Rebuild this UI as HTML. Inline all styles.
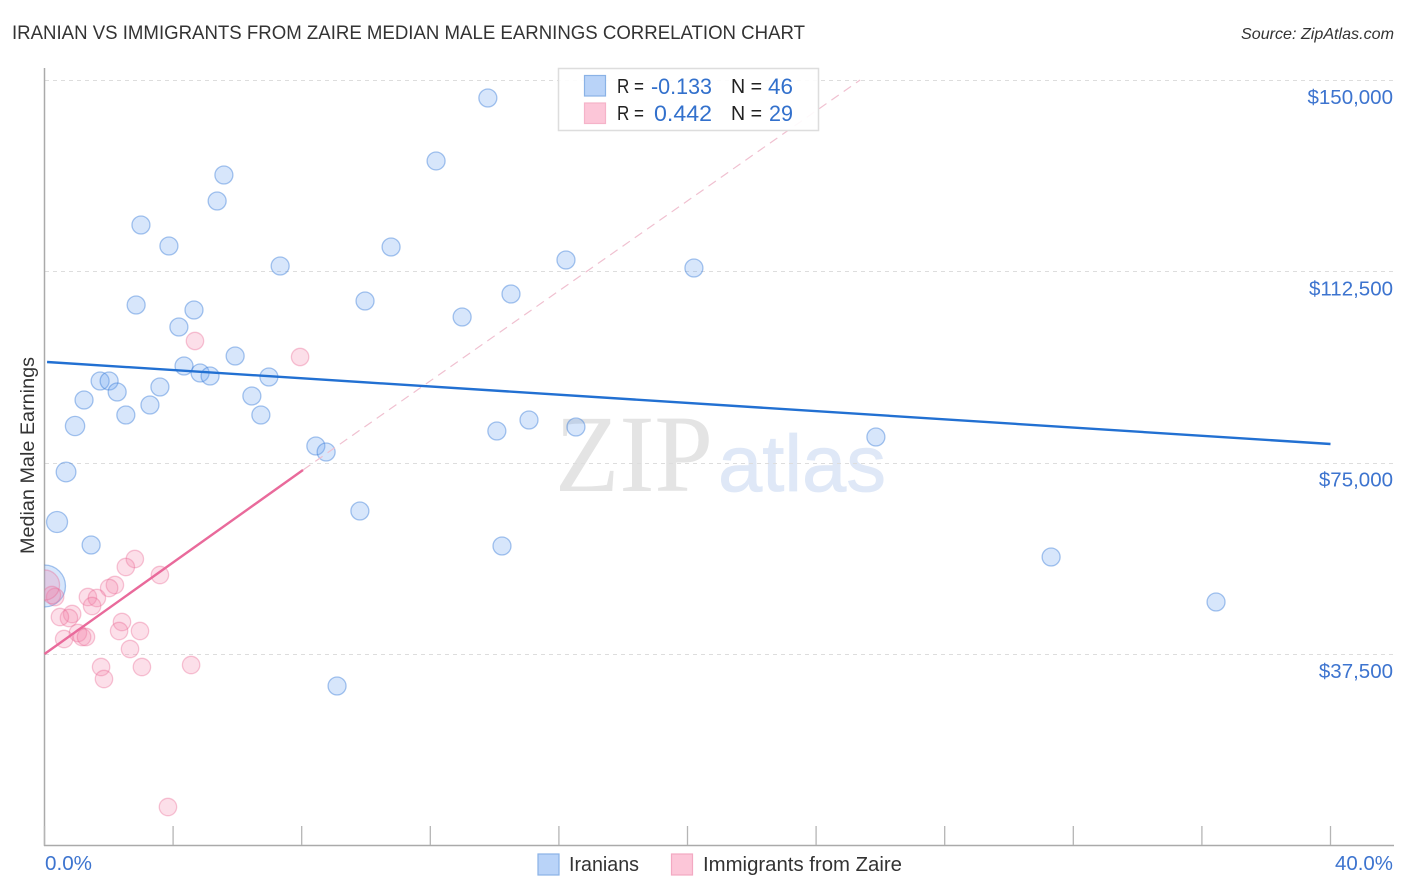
<!DOCTYPE html>
<html lang="en">
<head>
<meta charset="utf-8">
<title>Iranian vs Immigrants from Zaire Median Male Earnings Correlation Chart</title>
<style>
html,body{margin:0;padding:0;background:#fff;}
svg{display:block;font-family:"Liberation Sans",sans-serif;}
</style>
</head>
<body>
<svg id="chart" xmlns="http://www.w3.org/2000/svg" width="1406" height="892" viewBox="0 0 1406 892">
  <defs><clipPath id="plot-clip"><rect x="44.5" y="60" width="1350" height="785"/></clipPath></defs>
  <text x="12" y="39" font-size="19" fill="#333" textLength="793" lengthAdjust="spacingAndGlyphs">IRANIAN VS IMMIGRANTS FROM ZAIRE MEDIAN MALE EARNINGS CORRELATION CHART</text>
  <text x="1394" y="39" font-size="16" font-style="italic" fill="#333" text-anchor="end" textLength="153" lengthAdjust="spacingAndGlyphs">Source: ZipAtlas.com</text>

  <g>
    <text x="555" y="491" font-family="'Liberation Serif',serif" font-size="110" fill="#e4e4e4" textLength="158" lengthAdjust="spacingAndGlyphs">ZIP</text>
    <text x="718" y="491" font-size="80" fill="#dfe8f7" stroke="#dfe8f7" stroke-width="0.8" textLength="168" lengthAdjust="spacingAndGlyphs">atlas</text>
  </g>

  <g id="grid"></g>
  <g id="axes"></g>
  <g id="points" clip-path="url(#plot-clip)"></g>
  <g id="trends"></g>
  <g id="ylabels"></g>

  <text transform="translate(34,455.5) rotate(-90)" font-size="19" fill="#333" text-anchor="middle" textLength="197" lengthAdjust="spacingAndGlyphs">Median Male Earnings</text>
  <text x="45" y="870" font-size="20" fill="#3d74cf" textLength="47" lengthAdjust="spacingAndGlyphs">0.0%</text>
  <text x="1335" y="870" font-size="20" fill="#3d74cf" textLength="58" lengthAdjust="spacingAndGlyphs">40.0%</text>

  <g>
    <rect x="558.5" y="68.5" width="260" height="62" fill="#fff" fill-opacity="0.9" stroke="#ddd" stroke-width="1.5"/>
    <rect x="584.5" y="75.5" width="21" height="20.5" fill="#b9d3f8" stroke="#8ab2e6" stroke-width="1.2"/>
    <rect x="584.5" y="103" width="21" height="20.5" fill="#fcc6d8" stroke="#f5b3c9" stroke-width="1.2"/>
    <text x="617" y="93" font-size="20" fill="#222" textLength="27" lengthAdjust="spacingAndGlyphs">R =</text>
    <text x="651" y="94" font-size="22" fill="#3270cc" textLength="61" lengthAdjust="spacingAndGlyphs">-0.133</text>
    <text x="731" y="93" font-size="20" fill="#222" textLength="31" lengthAdjust="spacingAndGlyphs">N =</text>
    <text x="768" y="94" font-size="22" fill="#3270cc" textLength="25" lengthAdjust="spacingAndGlyphs">46</text>
    <text x="617" y="120" font-size="20" fill="#222" textLength="27" lengthAdjust="spacingAndGlyphs">R =</text>
    <text x="654" y="121" font-size="22" fill="#3270cc" textLength="58" lengthAdjust="spacingAndGlyphs">0.442</text>
    <text x="731" y="120" font-size="20" fill="#222" textLength="31" lengthAdjust="spacingAndGlyphs">N =</text>
    <text x="769" y="121" font-size="22" fill="#3270cc" textLength="24" lengthAdjust="spacingAndGlyphs">29</text>
  </g>

  <g>
    <rect x="538" y="854" width="21" height="21" fill="#b9d3f8" stroke="#8ab2e6" stroke-width="1.2"/>
    <text x="569" y="871" font-size="20" fill="#333" textLength="70" lengthAdjust="spacingAndGlyphs">Iranians</text>
    <rect x="671.5" y="854" width="21" height="21" fill="#fcc6d8" stroke="#f3a9c2" stroke-width="1.2"/>
    <text x="703" y="871" font-size="20" fill="#333" textLength="199" lengthAdjust="spacingAndGlyphs">Immigrants from Zaire</text>
  </g>
</svg>
<script>
const yTicks = [37500, 75000, 112500, 150000];
const yTickLabels = ["$37,500", "$75,000", "$112,500", "$150,000"];
const xTicks = [0, 4, 8, 12, 16, 20, 24, 28, 32, 36, 40];

const iranianX = [13.79,12.18,5.58,5.37,3.00,3.87,10.78,16.22,7.33,20.20,14.51,2.85,9.97,4.65,12.99,4.18,5.93,4.34,4.84,5.15,6.98,1.73,2.01,3.59,2.26,1.23,6.45,3.28,2.53,6.73,0.95,14.07,15.07,16.53,25.86,8.44,8.76,0.67,9.81,0.39,1.45,14.23,31.31,36.44,9.10,0.00];
const iranianY = [146476,134130,131384,126288,121584,117468,117272,114724,113548,113156,108060,105904,106688,104924,103552,101592,95908,93948,92576,91988,91792,91008,91008,89832,88852,87284,88068,86304,84344,84344,82188,81208,83364,81992,80032,78268,77092,73172,65528,63372,58864,58668,56512,47692,31228,50828];
const iranianWeight = [1,1,1,1,1,1,1,1,1,1,1,1,1,1,1,1,1,1,1,1,1,1,1,1,1,1,1,1,1,1,1.15,1,1,1,1,1,1,1.2,1,1.36,1,1,1,1,1,5.44];

const zaireX = [4.68,7.95,2.81,2.53,3.59,2.19,2.01,1.35,1.63,1.48,0.86,0.76,0.48,0.33,0.23,1.04,1.17,1.29,0.61,2.41,2.32,2.97,2.66,1.76,3.03,4.56,1.85,3.84,0.00];
const zaireY = [98848,95712,56120,54552,52984,51024,50436,48672,48476,46908,45340,44556,44752,48672,49064,41616,40832,40832,40440,43772,42008,42008,38480,34952,34952,35344,32600,7512,51024];
const zaireWeight = [1,1,1,1,1,1,1,1,1,1,1,1,1,1,1,1,1,1,1,1,1,1,1,1,1,1,1,1,3];

const iranianTrendX = [0.08, 40];
const iranianTrendY = [94732, 78660];
const zaireTrendX = [0, 8.04];
const zaireTrendY = [37500, 73564];
const zaireProjectionX = [8.04, 25.37];
const zaireProjectionY = [73564, 150004];

const NS = 'http://www.w3.org/2000/svg';
const xScale = v => 44.5 + v * 32.15;
const yScale = v => 654 - (v - 37500) * 191.33 / 37500;

function make(parent, tag, attrs) {
  const el = document.createElementNS(NS, tag);
  for (const k in attrs) el.setAttribute(k, attrs[k]);
  parent.appendChild(el);
  return el;
}

const gridG = document.getElementById('grid');
const axesG = document.getElementById('axes');
const trendsG = document.getElementById('trends');
const pointsG = document.getElementById('points');
const ylabelsG = document.getElementById('ylabels');

yTicks.forEach((t, i) => {
  const y = Math.round(yScale(t)) + 0.5;
  const line = make(gridG, 'line', {x1: 45, x2: 1394, y1: y, y2: y, stroke: '#ddd', 'stroke-width': 1, 'stroke-dasharray': '4 4'});
  
  
  const label = make(ylabelsG, 'text', {x: 1393, y: yScale(t) + 24, 'font-size': 20.5, fill: '#3d74cf', 'text-anchor': 'end'});
  label.textContent = yTickLabels[i];
  
  
});

const yAxis = make(axesG, 'line', {x1: 44.5, x2: 44.5, y1: 68, y2: 846, stroke: '#aaa', 'stroke-width': 1.5});


const xAxis = make(axesG, 'line', {x1: 44, x2: 1394, y1: 845.5, y2: 845.5, stroke: '#aaa', 'stroke-width': 1.5});


xTicks.forEach(t => {
  const x = xScale(t);
  const tick = make(axesG, 'line', {x1: x, x2: x, y1: 826, y2: 845, stroke: '#b5b5b5', 'stroke-width': 1.3});
  
  
});

const projection = make(trendsG, 'line', {x1: xScale(zaireProjectionX[0]), y1: yScale(zaireProjectionY[0]), x2: xScale(zaireProjectionX[1]), y2: yScale(zaireProjectionY[1]), stroke: '#f0c0d0', 'stroke-width': 1.2, 'stroke-dasharray': '9 6'});



function drawPoints(xs, ys, ws, base, fill, stroke, name) {
  xs.forEach((x, i) => {
    const c = make(pointsG, 'circle', {cx: xScale(x), cy: yScale(ys[i]), r: base * Math.sqrt(ws[i]), fill: fill, stroke: stroke, 'stroke-width': 1.3});
    
    
  });
}
drawPoints(iranianX, iranianY, iranianWeight, 9, 'rgba(110,165,240,0.28)', 'rgba(50,120,215,0.42)', 'iranian-point');
drawPoints(zaireX, zaireY, zaireWeight, 8.7, 'rgba(245,130,170,0.26)', 'rgba(232,100,145,0.36)', 'zaire-point');

const blueTrend = make(trendsG, 'line', {x1: xScale(iranianTrendX[0]), y1: yScale(iranianTrendY[0]), x2: xScale(iranianTrendX[1]), y2: yScale(iranianTrendY[1]), stroke: '#2270d2', 'stroke-width': 2.4});


const pinkTrend = make(trendsG, 'line', {x1: xScale(zaireTrendX[0]), y1: yScale(zaireTrendY[0]), x2: xScale(zaireTrendX[1]), y2: yScale(zaireTrendY[1]), stroke: '#e96a9b', 'stroke-width': 2.4});


</script>
</body>
</html>
